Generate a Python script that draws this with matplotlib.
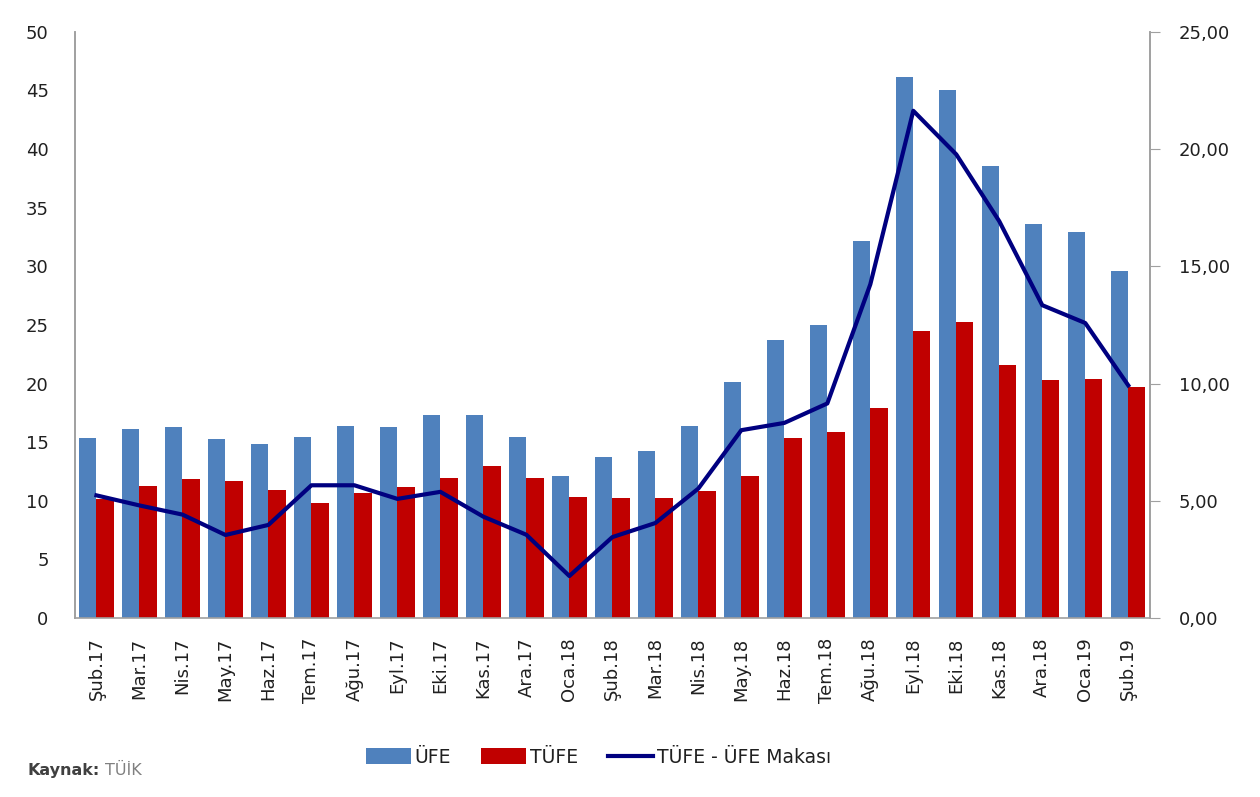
import matplotlib
matplotlib.use("Agg")
import matplotlib.pyplot as plt
import numpy as np

plt.rcParams['font.family'] = ['DejaVu Sans']

months = ['Şub.17', 'Mar.17', 'Nis.17', 'May.17', 'Haz.17', 'Tem.17', 'Ağu.17',
          'Eyl.17', 'Eki.17', 'Kas.17', 'Ara.17', 'Oca.18', 'Şub.18', 'Mar.18',
          'Nis.18', 'May.18', 'Haz.18', 'Tem.18', 'Ağu.18', 'Eyl.18', 'Eki.18',
          'Kas.18', 'Ara.18', 'Oca.19', 'Şub.19']
ufe = [15.36, 16.09, 16.28, 15.26, 14.87, 15.45, 16.34, 16.28, 17.28, 17.30,
       15.47, 12.14, 13.71, 14.28, 16.37, 20.16, 23.71, 25.00, 32.13, 46.15,
       45.01, 38.54, 33.64, 32.93, 29.59]
tufe = [10.13, 11.29, 11.87, 11.72, 10.90, 9.79, 10.68, 11.20, 11.90, 12.98,
        11.92, 10.35, 10.26, 10.23, 10.85, 12.15, 15.39, 15.85, 17.90, 24.52,
        25.24, 21.62, 20.30, 20.35, 19.67]
makas = [5.23, 4.80, 4.41, 3.54, 3.97, 5.66, 5.66, 5.08, 5.38, 4.32, 3.55,
         1.79, 3.45, 4.05, 5.52, 8.01, 8.32, 9.15, 14.23, 21.63, 19.77, 16.92,
         13.34, 12.58, 9.92]

fig = plt.figure(figsize=(12.6, 7.97), dpi=100)
ax = fig.add_axes([0.0595, 0.2246, 0.853, 0.7355])
ax2 = ax.twinx()

x = np.arange(len(months))
w = 0.4
b1 = ax.bar(x - w / 2, ufe, w, color='#4F81BD', label='ÜFE')
b2 = ax.bar(x + w / 2, tufe, w, color='#C00000', label='TÜFE')
l1, = ax2.plot(x, makas, color='#000080', lw=3, label='TÜFE - ÜFE Makası')

ax.set_xlim(-0.5, len(months) - 0.5)
ax.set_ylim(0, 50)
ax.set_yticks(range(0, 51, 5))
ax2.set_ylim(0, 25)
ax2.set_yticks(range(0, 26, 5))
ax2.set_yticklabels(['%d,00' % v for v in range(0, 26, 5)])

ax.set_xticks(x)
ax.set_xticklabels(months, rotation=90, fontsize=13, color='#202020')
ax.tick_params(axis='x', length=0, pad=14)
ax.tick_params(axis='y', length=0, labelsize=13, pad=19, labelcolor='#202020')
ax2.tick_params(axis='y', length=7, color='#A0A0A0', labelsize=13, pad=14,
                labelcolor='#202020')

for a in (ax, ax2):
    a.spines['top'].set_visible(False)
    for s in ('left', 'right', 'bottom'):
        a.spines[s].set_color('#A0A0A0')
        a.spines[s].set_linewidth(1.2)
ax2.spines['bottom'].set_visible(False)

fig.legend([b1, b2, l1], ['ÜFE', 'TÜFE', 'TÜFE - ÜFE Makası'], loc='center',
           bbox_to_anchor=(0.475, 0.05), ncol=3, frameon=False, fontsize=13.5,
           handlelength=2.4, handleheight=0.9, handletextpad=0.2,
           columnspacing=1.6, labelcolor='#202020')

fig.text(0.022, 0.028, 'Kaynak:', fontsize=11.5, fontweight='bold', color='#404040')
fig.text(0.083, 0.028, 'TÜİK', fontsize=11.5, color='#808080')

fig.savefig('out.png', dpi=100)
